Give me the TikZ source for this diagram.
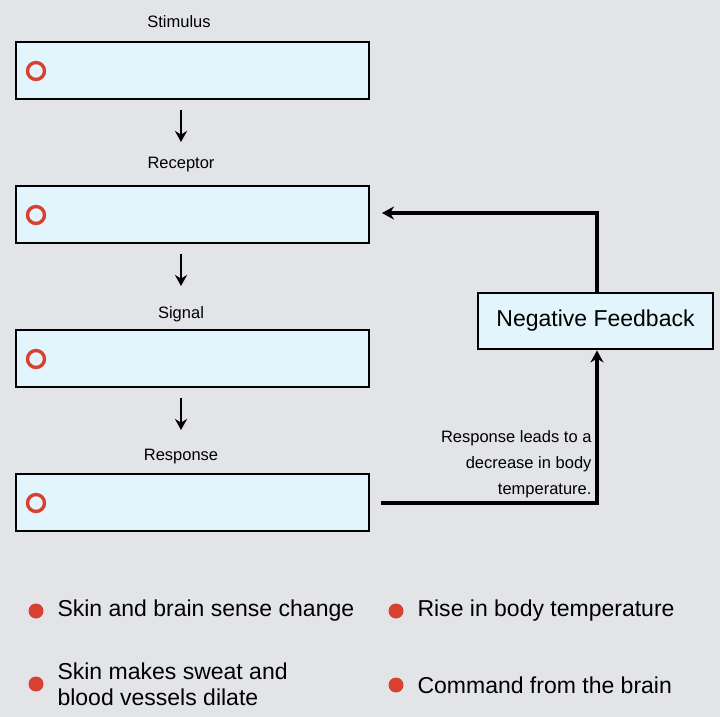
\documentclass[tikz,border=0pt]{standalone}
\usepackage{fontspec}
\setmainfont{Liberation Sans}
\usetikzlibrary{arrows.meta}
\definecolor{bg}{HTML}{E3E4E8}
\definecolor{boxfill}{HTML}{E2F4FC}
\definecolor{mark}{HTML}{D8412F}
\begin{document}
\begin{tikzpicture}[x=1pt,y=-1pt,
  box/.style={draw=black,line width=2.9pt,fill=boxfill,minimum width=353pt,minimum height=57pt,inner sep=0pt},
  ttl/.style={font=\fontsize{16.5}{19}\selectfont},
  ring/.style={draw=mark,line width=3.4pt,circle,minimum size=17pt,inner sep=0pt},
  arr/.style={line width=2.8pt,-{Stealth[length=11pt,width=12pt]}},
  dot/.style={fill=mark,circle,minimum size=15pt,inner sep=0pt},
  leg/.style={font=\fontsize{23}{26}\selectfont,anchor=west,align=left}]
\useasboundingbox[fill=bg] (0,0) rectangle (720,717);
\node[box] (s1) at (192.5,70.5) {};
\node[box] (s2) at (192.5,214.5) {};
\node[box] (s3) at (192.5,358.5) {};
\node[box] (s4) at (192.5,502.5) {};
\node[ttl] (t1) at (179,22) {Stimulus};
\node[ttl] (t2) at (181,165) {Receptor};
\node[ttl] (t3) at (181,314) {Signal};
\node[ttl] (t4) at (181,457) {Response};
\node[ring] (r1) at (36,71) {};
\node[ring] (r2) at (36,215) {};
\node[ring] (r3) at (36,359) {};
\node[ring] (r4) at (36,503) {};
\coordinate (a1) at (181,110); \coordinate (b1) at (181,142);
\coordinate (a2) at (181,254); \coordinate (b2) at (181,286);
\coordinate (a3) at (181,398); \coordinate (b3) at (181,430);
\draw[arr] (a1) -- (b1);
\draw[arr] (a2) -- (b2);
\draw[arr] (a3) -- (b3);
\node[draw=black,line width=2.9pt,fill=boxfill,minimum width=235pt,minimum height=56pt,font=\fontsize{23}{26}\selectfont] (nf) at (595.5,321) {Negative Feedback};
\coordinate (c1) at (597,213); \coordinate (c2) at (382,213);
\draw[arr,line width=3.2pt,-{Stealth[length=12pt,width=13pt]}] (nf.north -| c1) -- (c1) -- (c2);
\coordinate (d1) at (381,503); \coordinate (d2) at (597,503);
\draw[arr,line width=3.2pt,-{Stealth[length=12pt,width=13pt]}] (d1) -- (d2) -- (nf.south -| d2);
\node[font=\fontsize{16.5}{26}\selectfont,align=right,anchor=east] (lab) at (595,464) {Response leads to a\\decrease in body\\temperature.};
\node[dot] (p1) at (36,611) {};
\node[dot] (p2) at (36,684) {};
\node[dot] (p3) at (396,611) {};
\node[dot] (p4) at (396,685) {};
\node[leg] (l1) at (54,611) {Skin and brain sense change};
\node[leg] (l2) at (54,684) {Skin makes sweat and\\blood vessels dilate};
\node[leg] (l3) at (414,611) {Rise in body temperature};
\node[leg] (l4) at (414,685) {Command from the brain};
\end{tikzpicture}
\end{document}
